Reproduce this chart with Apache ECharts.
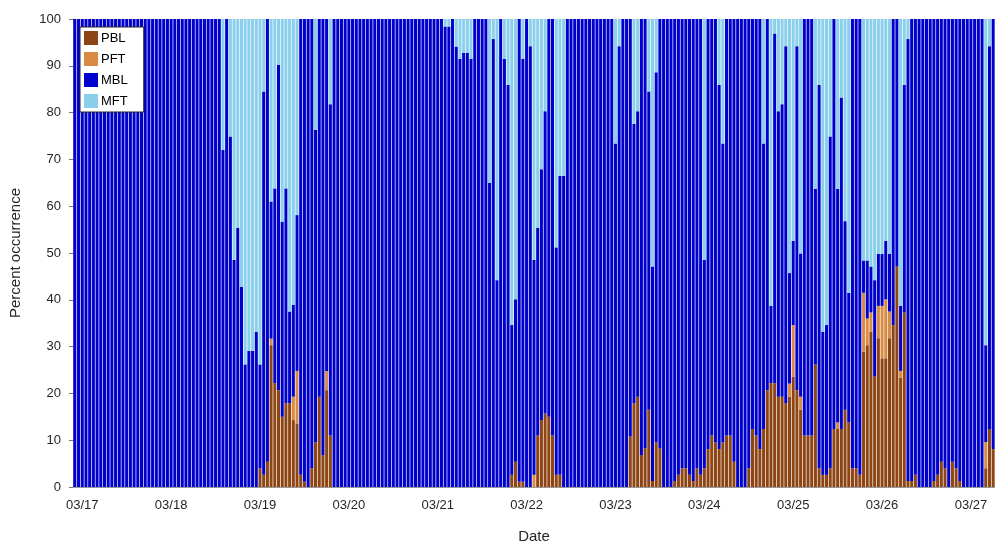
<!DOCTYPE html>
<html>
<head>
<meta charset="utf-8">
<script src="https://cdn.jsdelivr.net/npm/echarts@6/dist/echarts.min.js"></script>
<style>html,body{margin:0;padding:0;background:#fff}#c{width:995px;height:542px}</style>
</head>
<body>
<div id="c"></div>
<script>
// hourly bins starting 03/16 22:00
const startDate = [2024, 2, 16, 22];
const dayLabels = ['03/17','03/18','03/19','03/20','03/21','03/22','03/23','03/24','03/25','03/26','03/27'];
const seriesNames = ['PBL','PFT','MBL','MFT'];

const PBL = [
0,0,0,0,0,0,0,0,0,0, 0,0,0,0,0,0,0,0,0,0, 0,0,0,0,0,0,0,0,0,0, 0,0,0,0,0,0,0,0,0,0,
0,0,0,0,0,0,0,0,0,0,
4.0,2.6,5.4,30.3,22.2,20.7,15.0,17.9,17.9,14.3,
13.6,2.6,1.1,0,4.0,9.5,19.3,6.8,20.7,11.0,
0,0,0,0,0,0,0,0,0,0, 0,0,0,0,0,0,0,0,0,0, 0,0,0,0,0,0,0,0,0,0, 0,0,0,0,0,0,0,0,0,0,
0,0,0,0,0,0,0,0,2.6,5.4,
1.1,1.1,0,0,0,11.0,14.3,15.7,15.0,11.0,
2.6,2.6,0,0,0,0,0,0,0,0,
0,0,0,0,0,0,0,0,0,0,
10.8,17.9,19.3,6.8,8.3,16.5,1.3,9.5,8.3,0,
0,0,1.3,2.6,4.0,4.0,2.6,1.3,4.0,2.6,
4.0,8.1,11.0,9.5,8.1,9.5,11.0,11.0,5.4,0,
0,0,4.0,12.4,11.0,8.1,12.4,20.7,22.2,22.2,
19.3,19.3,17.9,19.3,23.6,20.7,16.5,11.0,11.0,11.0,
26.2,4.0,2.6,2.6,4.0,12.4,12.4,12.4,16.5,13.8,
4.0,4.0,2.6,28.9,30.3,33.2,23.6,31.8,27.5,27.5,
31.8,34.6,47.1,23.4,37.3,1.3,1.3,2.6,0,0,
0,0,1.3,2.6,5.4,4.0,0,5.4,4.0,1.3,
0,0,0,0,0,0,4.0,12.4,8.1
];

const PFT = [
0,0,0,0,0,0,0,0,0,0, 0,0,0,0,0,0,0,0,0,0, 0,0,0,0,0,0,0,0,0,0, 0,0,0,0,0,0,0,0,0,0,
0,0,0,0,0,0,0,0,0,0,
0,0,0,1.4,0,0,0,0,0,5.0,
11.2,0,0,0,0,0,0,0,4.1,0,
0,0,0,0,0,0,0,0,0,0, 0,0,0,0,0,0,0,0,0,0, 0,0,0,0,0,0,0,0,0,0, 0,0,0,0,0,0,0,0,0,0,
0,0,0,0,0,0,0,0,0,0,
0,0,0,0,2.6,0,0,0,0,0,
0,0,0,0,0,0,0,0,0,0, 0,0,0,0,0,0,0,0,0,0, 0,0,0,0,0,0,0,0,0,0, 0,0,0,0,0,0,0,0,0,0,
0,0,0,0,0,0,0,0,0,0, 0,0,0,0,0,0,0,0,0,0,
0,0,0,2.8,11.0,0,2.8,0,0,0,
0,0,0,0,0,0,1.4,0,0,0,
0,0,0,12.6,5.7,4.1,0,6.9,11.2,12.6,
5.7,0,0,1.4,0,0,0,0,0,0,
0,0,0,0,0,0,0,0,0,0,
0,0,0,0,0,0,5.6,0,0
];

const MBL = [
100,100,100,100,100,100,100,100,100,100, 100,100,100,100,100,100,100,100,100,100,
100,100,100,100,100,100,100,100,100,100, 100,100,100,100,100,100,100,100,100,100,
72.0,100,74.9,48.5,55.4,42.8,26.2,29.1,29.1,33.2,
22.2,81.9,94.6,29.3,41.6,69.5,41.7,45.9,19.6,19.6,
33.3,97.4,98.9,100,96.0,66.8,80.7,93.2,75.2,70.8,
100,100,100,100,100,100,100,100,100,100, 100,100,100,100,100,100,100,100,100,100,
100,100,100,100,100,100,100,100,100,100,
98.4,98.4,100,94.1,91.5,92.8,92.8,91.5,100,100,
100,100,65.0,95.7,44.2,100,91.5,85.9,32.0,34.7,
98.9,90.4,100,94.2,45.9,44.4,53.6,64.6,85.0,89.0,
48.6,63.9,66.5,100,100,100,100,100,100,100,
100,100,100,100,100,100,73.4,94.2,100,100,
89.2,59.7,61.0,93.2,91.7,68.0,45.8,79.1,91.7,100,
100,100,98.7,97.4,96.0,96.0,97.4,98.7,96.0,97.4,
44.5,91.9,89.0,90.5,77.8,63.9,89.0,89.0,94.6,100,
100,100,96.0,87.6,89.0,91.9,61.0,79.3,16.5,74.7,
61.0,62.5,76.3,23.6,18.0,73.5,30.6,89.0,89.0,89.0,
37.5,81.9,30.6,32.0,70.9,87.6,49.9,70.8,40.3,27.7,
96.0,96.0,97.4,6.9,12.4,9.8,20.6,11.1,11.1,12.5,
12.3,65.4,52.9,13.9,48.6,94.4,98.7,97.4,100,100,
100,100,98.7,97.4,94.6,96.0,100,94.6,96.0,98.7,
100,100,100,100,100,100,20.7,81.8,91.9
];

const MFT = [
0,0,0,0,0,0,0,0,0,0, 0,0,0,0,0,0,0,0,0,0, 0,0,0,0,0,0,0,0,0,0, 0,0,0,0,0,0,0,0,0,0,
28.0,0,25.1,51.5,44.6,57.2,73.8,70.9,70.9,66.8,
73.8,15.5,0,39.0,36.2,9.8,43.3,36.2,62.5,61.1,
41.9,0,0,0,0,23.7,0,0,0,18.2,
0,0,0,0,0,0,0,0,0,0, 0,0,0,0,0,0,0,0,0,0, 0,0,0,0,0,0,0,0,0,0,
1.6,1.6,0,5.9,8.5,7.2,7.2,8.5,0,0,
0,0,35.0,4.3,55.8,0,8.5,14.1,65.4,59.9,
0,8.5,0,5.8,51.5,44.6,32.1,19.7,0,0,
48.8,33.5,33.5,0,0,0,0,0,0,0,
0,0,0,0,0,0,26.6,5.8,0,0,
0,22.4,19.7,0,0,15.5,52.9,11.4,0,0,
0,0,0,0,0,0,0,0,0,0,
51.5,0,0,0,14.1,26.6,0,0,0,0,
0,0,0,0,0,0,26.6,0,61.3,3.1,
19.7,18.2,5.8,54.3,47.4,5.8,50.1,0,0,0,
36.3,14.1,66.8,65.4,25.1,0,36.3,16.8,43.2,58.5,
0,0,0,51.6,51.6,52.9,55.8,50.2,50.2,47.4,
50.2,0,0,61.3,14.1,4.3,0,0,0,0,
0,0,0,0,0,0,0,0,0,0,
0,0,0,0,0,0,69.7,5.8,0
];

const yTicks = [0,10,20,30,40,50,60,70,80,90,100];

// hourly category labels
const categories = [];
const pad = n => (n < 10 ? '0' : '') + n;
for (let i = 0; i < PBL.length; i++) {
  const d = new Date(Date.UTC(startDate[0], startDate[1], startDate[2], startDate[3] + i));
  categories.push(pad(d.getUTCMonth() + 1) + '/' + pad(d.getUTCDate()) + ' ' + pad(d.getUTCHours()));
}
const isDayStart = (idx) => {
  const lab = categories[idx];
  return lab.endsWith(' 00') && dayLabels.indexOf(lab.slice(0, 5)) >= 0;
};

const colors = {PBL:'#8C4513', PFT:'#D88B42', MBL:'#0000CC', MFT:'#8ACFEC'};
const dataMap = {PBL, PFT, MBL, MFT};

const chart = echarts.init(document.getElementById('c'), null, {renderer:'canvas'});
chart.setOption({
  animation: false,
  backgroundColor: '#ffffff',
  textStyle: {fontFamily: 'Helvetica, Arial, "Liberation Sans", sans-serif'},
  grid: {left: 73, right: 0, top: 19, bottom: 55, containLabel: false, outerBoundsMode: 'none'},
  legend: {
    data: seriesNames,
    orient: 'vertical',
    left: 80, top: 27,
    itemWidth: 14, itemHeight: 14, itemGap: 7,
    padding: [4, 16, 4, 4],
    backgroundColor: '#ffffff',
    borderColor: '#262626', borderWidth: 1,
    textStyle: {fontSize: 13, color: '#000', padding: [0,0,0,-2]},
    icon: 'rect'
  },
  xAxis: {
    type: 'category',
    data: categories,
    name: 'Date',
    nameLocation: 'middle',
    nameGap: 42,
    nameTextStyle: {fontSize: 15, color: '#262626'},
    axisLine: {lineStyle: {color: '#999999', width: 1}},
    axisTick: {alignWithLabel: true, length: 7, interval: (i) => isDayStart(i), lineStyle: {color: '#777'}},
    axisLabel: {interval: (i) => isDayStart(i), formatter: v => v.slice(0, 5), fontSize: 13, color: '#262626', margin: 12},
    splitLine: {show: false}
  },
  yAxis: {
    type: 'value',
    min: 0, max: 100, interval: 10,
    name: 'Percent occurrence',
    nameLocation: 'middle',
    nameGap: 50,
    nameTextStyle: {fontSize: 15, color: '#262626'},
    axisLine: {show: true, lineStyle: {color: '#999999'}},
    axisTick: {show: true, length: 4, lineStyle: {color: '#777'}},
    axisLabel: {fontSize: 13, color: '#262626', margin: 12, formatter: v => (yTicks.indexOf(v) >= 0 ? String(v) : '')},
    splitLine: {show: false}
  },
  series: seriesNames.map(n => ({
    name: n,
    type: 'bar',
    stack: 'total',
    data: dataMap[n],
    barCategoryGap: '18%',
    itemStyle: {color: colors[n]},
    emphasis: {disabled: true}
  }))
});
</script>
</body>
</html>
